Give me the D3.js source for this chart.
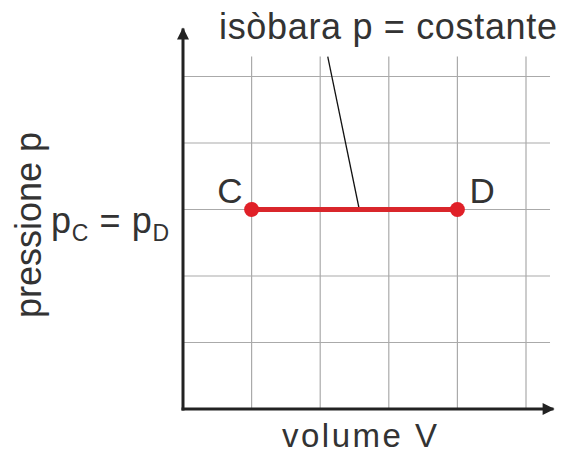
<!DOCTYPE html>
<html>
<head>
<meta charset="utf-8">
<script src="https://cdn.jsdelivr.net/npm/d3@7"></script>
<style>
  body { margin: 0; background: #fff; }
  text { font-family: "Liberation Sans", Arial, sans-serif; fill: #333; }
</style>
</head>
<body>
<script>
var width = 566, height = 455;

// grid positions (volume and pressure units)
var gridV = [1, 2, 3, 4, 5];
var gridP = [1, 2, 3, 4, 5];

// isobaric transformation C -> D
var states = [
    {name: "C", V: 1, p: 3},
    {name: "D", V: 4, p: 3}
];

// leader line for the label
var leader = [{V: 2.11, p: 5.3}, {V: 2.57, p: 3}];

var svg = d3.select("body").append("svg")
    .attr("width", width)
    .attr("height", height);

var x = d3.scaleLinear().domain([0, 5]).range([183, 526]);
var y = d3.scaleLinear().domain([0, 5]).range([409, 76.5]);

// grid
svg.append("g").selectAll("line")
    .data(gridV).enter().append("line")
        .attr("x1", d => x(d)).attr("x2", d => x(d))
        .attr("y1", y(0)).attr("y2", y(5.3))
        .style("stroke", "#aaa").style("stroke-width", 1.2);
svg.append("g").selectAll("line")
    .data(gridP).enter().append("line")
        .attr("x1", x(0)).attr("x2", x(5.35))
        .attr("y1", d => y(d)).attr("y2", d => y(d))
        .style("stroke", "#aaa").style("stroke-width", 1.2);

// axes with arrows
svg.append("defs").append("marker")
    .attr("id", "arrow")
    .attr("viewBox", "0 0 10 10")
    .attr("refX", 9).attr("refY", 5)
    .attr("markerWidth", 4.5).attr("markerHeight", 4)
    .attr("orient", "auto")
  .append("path")
    .attr("d", "M0,0 L10,5 L0,10 z")
    .style("fill", "#222");

svg.append("line")
    .attr("x1", x(0) - 1.5).attr("x2", x(5.4))
    .attr("y1", y(0)).attr("y2", y(0))
    .style("stroke", "#222").style("stroke-width", 3)
    .attr("marker-end", "url(#arrow)");
svg.append("line")
    .attr("x1", x(0)).attr("x2", x(0))
    .attr("y1", y(0) + 1.5).attr("y2", y(5.72))
    .style("stroke", "#222").style("stroke-width", 3)
    .attr("marker-end", "url(#arrow)");

// leader line
svg.append("line")
    .attr("x1", x(leader[0].V)).attr("y1", y(leader[0].p))
    .attr("x2", x(leader[1].V)).attr("y2", y(leader[1].p))
    .style("stroke", "#111").style("stroke-width", 1.3);

// isobar
var line = d3.line().x(d => x(d.V)).y(d => y(d.p));
svg.append("path")
    .datum(states)
    .attr("d", line)
    .style("fill", "none")
    .style("stroke", "#d9262b")
    .style("stroke-width", 5);

svg.selectAll(".pt")
    .data(states).enter().append("circle")
        .attr("class", "pt")
        .attr("cx", d => x(d.V)).attr("cy", d => y(d.p))
        .attr("r", 7.5)
        .style("fill", "#e02028");

svg.selectAll(".lbl")
    .data(states).enter().append("text")
        .attr("class", "lbl")
        .attr("x", d => d.name == "C" ? x(d.V) - 9 : x(d.V) + 12)
        .attr("y", d => y(d.p) - 7)
        .attr("text-anchor", d => d.name == "C" ? "end" : "start")
        .style("font-size", "35px")
        .text(d => d.name);

// labels
svg.append("text")
    .attr("x", 219).attr("y", 39)
    .attr("textLength", 338)
    .style("font-size", "36px")
    .text("isòbara p = costante");

svg.append("text")
    .attr("x", 282).attr("y", 447)
    .attr("textLength", 155)
    .style("font-size", "33px")
    .text("volume V");

svg.append("text")
    .attr("transform", "translate(41,318) rotate(-90)")
    .attr("textLength", 186)
    .style("font-size", "36px")
    .text("pressione p");

var pt = svg.append("text")
    .attr("x", 51).attr("y", 233)
    .attr("textLength", 118)
    .style("font-size", "36px");
pt.append("tspan").text("p");
pt.append("tspan").attr("dy", 8).style("font-size", "23px").text("C");
pt.append("tspan").attr("dy", -8).text(" = p");
pt.append("tspan").attr("dy", 8).style("font-size", "23px").text("D");
</script>
</body>
</html>
